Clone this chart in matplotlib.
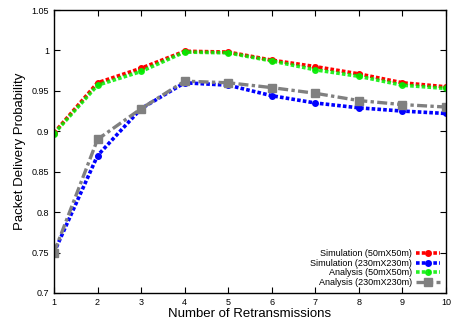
import matplotlib
matplotlib.use('Agg')
import matplotlib.pyplot as plt

plt.rcParams['font.family'] = ['Liberation Sans', 'DejaVu Sans']

retransmissions = [1, 2, 3, 4, 5, 6, 7, 8, 9, 10]
sim_50 = [0.898, 0.960, 0.978, 0.999, 0.998, 0.988, 0.980, 0.971, 0.960, 0.955]
sim_230 = [0.750, 0.870, 0.928, 0.960, 0.957, 0.944, 0.935, 0.929, 0.925, 0.922]
ana_50 = [0.897, 0.957, 0.974, 0.998, 0.997, 0.987, 0.976, 0.968, 0.957, 0.953]
ana_230 = [0.750, 0.890, 0.928, 0.962, 0.960, 0.954, 0.947, 0.938, 0.933, 0.930]

fig = plt.figure(figsize=(4.6, 3.22), dpi=100)
ax = fig.add_axes([54/460, 1 - 293/322, 392/460, 283/322])

ax.plot(retransmissions, sim_50, color='#ff0000', linestyle=(0, (1, 0.6)), linewidth=2.6,
        marker='o', markersize=4, label='Simulation (50mX50m)')
ax.plot(retransmissions, sim_230, color='#0000ff', linestyle=(0, (1, 0.6)), linewidth=2.6,
        marker='o', markersize=4, label='Simulation (230mX230m)')
ax.plot(retransmissions, ana_50, color='#00ee00', linestyle=(0, (1, 0.6)), linewidth=2.6,
        marker='o', markersize=4, alpha=0.85, label='Analysis (50mX50m)')
ax.plot(retransmissions, ana_230, color='#808080', linestyle=(0, (3, 1, 1, 1)), linewidth=2.4,
        marker='s', markersize=6, label='Analysis (230mX230m)')

ax.set_xlim(1, 10)
ax.set_ylim(0.7, 1.05)
ax.set_xticks(retransmissions)
ax.set_yticks([0.7, 0.75, 0.8, 0.85, 0.9, 0.95, 1.0, 1.05])
ax.set_yticklabels(['0.7', '0.75', '0.8', '0.85', '0.9', '0.95', '1', '1.05'])
ax.tick_params(direction='in', top=True, right=True, labelsize=6.5, length=4, width=0.8)
ax.set_xlabel('Number of Retransmissions', fontsize=9.5, labelpad=1)
ax.set_ylabel('Packet Delivery Probability', fontsize=9.5, labelpad=4)
for s in ax.spines.values():
    s.set_linewidth(1)

ax.legend(loc='lower right', frameon=False, fontsize=6.5, markerfirst=False,
          handlelength=2.6, labelspacing=0.05, handletextpad=0.5,
          borderaxespad=0.3)

plt.savefig('out.png', dpi=100)
plt.close()
